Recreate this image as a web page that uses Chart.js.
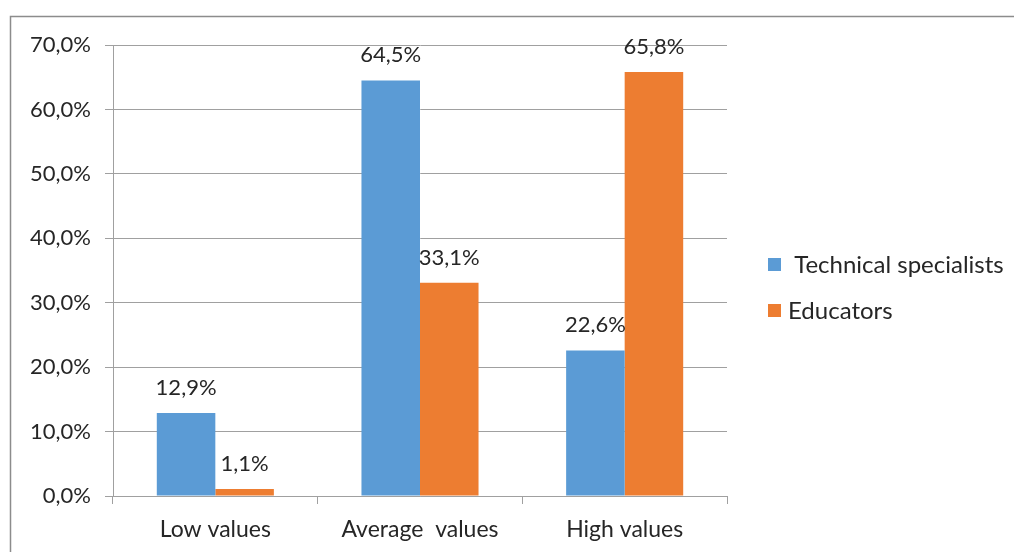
<!DOCTYPE html>
<html>
<head>
<meta charset="utf-8">
<script src="https://cdn.jsdelivr.net/npm/chart.js@4"></script>
<style>
  html, body { margin: 0; padding: 0; background: #ffffff; }
  #wrap { width: 1014px; height: 552px; position: relative; }
</style>
</head>
<body>
<div id="wrap"><canvas id="chart" width="1014" height="552"></canvas></div>
<script>
// Share of respondents per level, in percent
const categories = ['Low values', 'Average  values', 'High values'];
const technicalSpecialists = [12.9, 64.5, 22.6];
const educators = [1.1, 33.1, 65.8];
const seriesNames = [' Technical specialists', 'Educators'];
const yTicks = [0, 10, 20, 30, 40, 50, 60, 70];

const FONT = 'Lato, "Open Sans", sans-serif';
const TEXT = '#262626';
const GRID = '#a0a0a0';

const fmt = v => v.toFixed(1).replace('.', ',') + '%';

// Outer frame around the whole chart
const framePlugin = {
  id: 'frame',
  beforeDraw(chart) {
    const ctx = chart.ctx;
    ctx.save();
    ctx.fillStyle = '#ffffff';
    ctx.fillRect(0, 0, chart.width, chart.height);
    ctx.strokeStyle = '#8c8c8c';
    ctx.lineWidth = 1.5;
    ctx.beginPath();
    ctx.moveTo(10.5, chart.height + 2);
    ctx.lineTo(10.5, 16.5);
    ctx.lineTo(chart.width + 2, 16.5);
    ctx.stroke();
    ctx.restore();
  }
};

// Value labels above each bar
const valueLabels = {
  id: 'valueLabels',
  afterDatasetsDraw(chart) {
    const ctx = chart.ctx;
    ctx.save();
    ctx.font = '22px ' + FONT;
    ctx.fillStyle = TEXT;
    ctx.textAlign = 'center';
    ctx.textBaseline = 'alphabetic';
    chart.data.datasets.forEach((ds, i) => {
      chart.getDatasetMeta(i).data.forEach((bar, j) => {
        ctx.fillText(fmt(ds.data[j]), bar.x, bar.y - 18);
      });
    });
    ctx.restore();
  }
};

// Legend on the right side
const sideLegend = {
  id: 'sideLegend',
  afterDraw(chart) {
    const ctx = chart.ctx;
    ctx.save();
    ctx.font = '24px ' + FONT;
    ctx.textBaseline = 'alphabetic';
    ctx.textAlign = 'left';
    const rows = [273, 319];
    chart.data.datasets.forEach((ds, i) => {
      const y = rows[i];
      ctx.fillStyle = ds.backgroundColor;
      ctx.fillRect(768, y - 15, 13, 13);
      ctx.fillStyle = TEXT;
      ctx.fillText(ds.label, 788, y);
    });
    ctx.restore();
  }
};

new Chart(document.getElementById('chart'), {
  type: 'bar',
  data: {
    labels: categories,
    datasets: [
      { label: seriesNames[0], data: technicalSpecialists, backgroundColor: '#5B9BD5' },
      { label: seriesNames[1], data: educators, backgroundColor: '#ED7D31' }
    ]
  },
  options: {
    responsive: false,
    animation: false,
    devicePixelRatio: 1,
    layout: { padding: { left: 0, right: 287, top: 45, bottom: 0 } },
    datasets: { bar: { barPercentage: 1.0, categoryPercentage: 0.572 } },
    plugins: { legend: { display: false }, tooltip: { enabled: false } },
    scales: {
      x: {
        offset: true,
        afterFit(scale) { scale.height = 56; },
        grid: { offset: true, drawOnChartArea: false, drawTicks: true, tickLength: 8, color: GRID, lineWidth: 1 },
        border: { color: GRID, width: 1 },
        ticks: { color: TEXT, font: { family: FONT, size: 23 }, padding: 12, maxRotation: 0 }
      },
      y: {
        min: 0,
        max: 70,
        afterFit(scale) { scale.width = 113; },
        afterBuildTicks(scale) { scale.ticks = yTicks.map(v => ({ value: v })); },
        grid: { color: GRID, lineWidth: 1, tickLength: 8 },
        border: { color: GRID, width: 1 },
        ticks: { color: TEXT, font: { family: FONT, size: 22 }, padding: 14, callback: v => fmt(v) }
      }
    }
  },
  plugins: [framePlugin, valueLabels, sideLegend]
});
</script>
</body>
</html>
